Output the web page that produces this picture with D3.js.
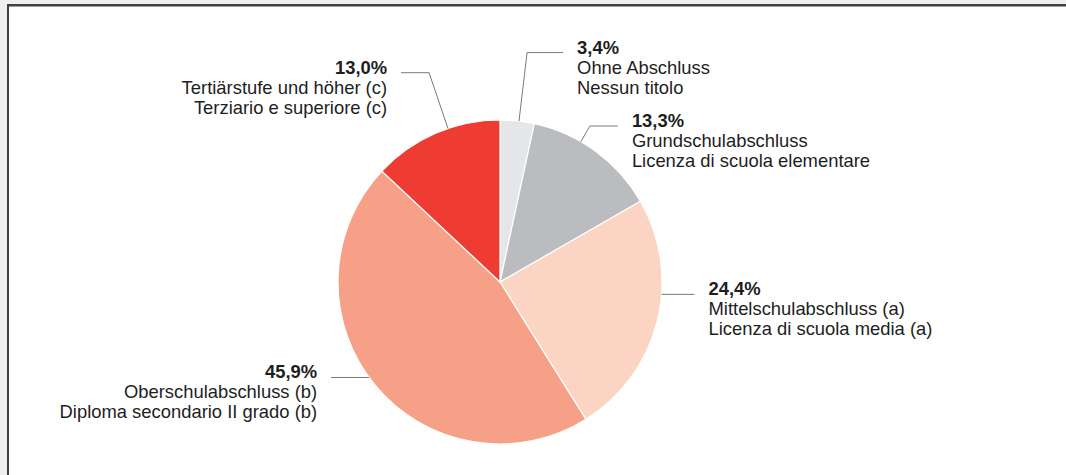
<!DOCTYPE html>
<html>
<head>
    <meta charset="utf-8">
    <title>Bildungsabschluss / Titolo di studio</title>
    <script src="https://d3js.org/d3.v7.min.js"></script>
    <style>
        html, body { margin: 0; background: #efefef; overflow: hidden; }
        svg { display: block; }
        text { font-family: "Liberation Sans", Arial, sans-serif; font-size: 18.4px; fill: #1e1e1e; }
    </style>
</head>
<body>
    <div id="chart"></div>

    <script>
        // data, clockwise from 12 o'clock
        const values = [3.4, 13.3, 24.4, 45.9, 13.0];
        const labelsDe = ["Ohne Abschluss", "Grundschulabschluss", "Mittelschulabschluss (a)", "Oberschulabschluss (b)", "Tertiärstufe und höher (c)"];
        const labelsIt = ["Nessun titolo", "Licenza di scuola elementare", "Licenza di scuola media (a)", "Diploma secondario II grado (b)", "Terziario e superiore (c)"];
        const colors = ["#e5e6e8", "#bbbcbf", "#fcd4c4", "#f5a087", "#ee3c33"];

        // leader layout: position inside slice (0..1), elbow radius, arm length, side
        const leaders = [
            { f: 0.55, r: 231, arm: 36, side: 1 },
            { f: 0.37, r: 180, arm: 28, side: 1 },
            { f: 0.39, r: 162, arm: 33, side: 1 },
            { f: 0.52, r: 162, arm: 38, side: -1 },
            { f: 0.60, r: 221, arm: 28, side: -1 }
        ];

        const width = 1066, height = 475;
        const cx = 500, cy = 282, radius = 162;

        const svg = d3.select("#chart").append("svg")
            .attr("width", width)
            .attr("height", height);

        // panel: white area with dark edge on left and top
        svg.append("rect")
            .attr("x", 8).attr("y", 5)
            .attr("width", width - 8).attr("height", height - 5)
            .attr("fill", "#fff");
        svg.append("line")
            .attr("x1", 9).attr("x2", width).attr("y1", 6.5).attr("y2", 6.5)
            .attr("stroke", "#a0a0a0").attr("stroke-width", 1);
        svg.append("path")
            .attr("d", "M8," + height + "V5H" + width)
            .attr("fill", "none")
            .attr("stroke", "#404040").attr("stroke-width", 2);

        const pie = d3.pie().sort(null).value(d => d);
        const arcs = pie(values);
        const arc = d3.arc().innerRadius(0).outerRadius(radius);

        const g = svg.append("g").attr("transform", "translate(" + cx + "," + cy + ")");

        g.selectAll("path.slice")
            .data(arcs)
            .enter()
            .append("path")
            .attr("class", "slice")
            .attr("d", arc)
            .attr("fill", (d, i) => colors[i])
            .attr("stroke", "#fff")
            .attr("stroke-width", 1.2);

        const fmt = v => v.toFixed(1).replace(".", ",") + "%";

        arcs.forEach((d, i) => {
            const L = leaders[i];
            const a = d.startAngle + L.f * (d.endAngle - d.startAngle);
            const x0 = radius * Math.sin(a), y0 = -radius * Math.cos(a);
            const x1 = L.r * Math.sin(a), y1 = -L.r * Math.cos(a);
            const x2 = x1 + L.side * L.arm;

            g.append("polyline")
                .attr("points", [[x0, y0], [x1, y1], [x2, y1]].map(p => p.join(",")).join(" "))
                .attr("fill", "none")
                .attr("stroke", "#7a7a7a")
                .attr("stroke-width", 1);

            const tx = x2 + L.side * 14;
            const t = g.append("text")
                .attr("x", tx)
                .attr("y", y1 + 1)
                .attr("text-anchor", L.side > 0 ? "start" : "end");
            t.append("tspan").attr("font-weight", "bold").text(fmt(values[i]));
            t.append("tspan").attr("x", tx).attr("dy", 20).text(labelsDe[i]);
            t.append("tspan").attr("x", tx).attr("dy", 20).text(labelsIt[i]);
        });
    </script>
</body>
</html>
